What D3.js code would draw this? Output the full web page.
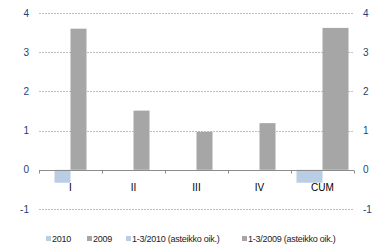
<!DOCTYPE html>
<html>
<head>
<meta charset="utf-8">
<script src="https://cdn.jsdelivr.net/npm/d3@7"></script>
<style>
  body { margin: 0; background: #fff; }
  text { font-family: "Liberation Sans", Arial, sans-serif; }
</style>
</head>
<body>
<script>
// data
const categories = ['I', 'II', 'III', 'IV', 'CUM'];
const s2010 = [-0.33, null, null, null, null];
const s2009 = [3.6, 1.51, 0.97, 1.19, null];
const q2010 = [null, null, null, null, -0.33];
const q2009 = [null, null, null, null, 3.62];
const yTicks = [-1, 0, 1, 2, 3, 4];
const legendLabels = ['2010', '2009', '1-3/2010 (asteikko oik.)', '1-3/2009 (asteikko oik.)'];

const blue = '#b9cde5', gray = '#a6a6a6';

const svg = d3.select('body').append('svg')
  .attr('width', 378)
  .attr('height', 246);

const x = d3.scaleBand().domain(categories).range([39, 354]);
const yL = d3.scaleLinear().domain([-1, 4]).range([209, 13]);
const yR = d3.scaleLinear().domain([-1, 4]).range([209, 13]);

// gridlines
svg.append('g').selectAll('line')
  .data(yTicks.filter(d => d !== 0))
  .enter().append('line')
  .attr('x1', 39).attr('x2', 354)
  .attr('y1', d => Math.round(yL(d)) + 0.5)
  .attr('y2', d => Math.round(yL(d)) + 0.5)
  .attr('stroke', '#bfbfbf')
  .attr('stroke-dasharray', '2,1');

// primary bars (2 series, narrow) and secondary (wide)
const bw1 = 16, bw2 = 26;
const primary = [{ vals: s2010, color: blue }, { vals: s2009, color: gray }];
const secondary = [{ vals: q2010, color: blue }, { vals: q2009, color: gray }];

function drawBars(series, bw, y) {
  series.forEach((s, si) => {
    svg.append('g').selectAll('rect')
      .data(categories.map((c, i) => ({ c, v: s.vals[i] })).filter(d => d.v != null))
      .enter().append('rect')
      .attr('x', d => x(d.c) + x.bandwidth() / 2 - bw + si * bw)
      .attr('width', bw)
      .attr('y', d => y(Math.max(0, d.v)))
      .attr('height', d => Math.abs(y(d.v) - y(0)))
      .attr('fill', s.color);
  });
}
drawBars(primary, bw1, yL);
drawBars(secondary, bw2, yR);

// zero axis
svg.append('line')
  .attr('x1', 39).attr('x2', 354)
  .attr('y1', Math.round(yL(0)) + 0.5).attr('y2', Math.round(yL(0)) + 0.5)
  .attr('stroke', '#8c8c8c');
svg.append('g').selectAll('line')
  .data(d3.range(categories.length + 1))
  .enter().append('line')
  .attr('x1', i => Math.round(39 + i * x.step()) + 0.5)
  .attr('x2', i => Math.round(39 + i * x.step()) + 0.5)
  .attr('y1', Math.round(yL(0)) + 0.5)
  .attr('y2', Math.round(yL(0)) + 3.5)
  .attr('stroke', '#8c8c8c');

// category labels
svg.append('g').selectAll('text')
  .data(categories)
  .enter().append('text')
  .attr('x', d => x(d) + x.bandwidth() / 2)
  .attr('y', 191)
  .attr('text-anchor', 'middle')
  .attr('font-size', 10)
  .attr('fill', '#000')
  .text(d => d);

// y labels left and right
svg.append('g').selectAll('text')
  .data(yTicks)
  .enter().append('text')
  .attr('x', 29)
  .attr('y', d => yL(d) + 3.5)
  .attr('text-anchor', 'end')
  .attr('font-size', 10)
  .attr('fill', '#1f3f73')
  .text(d => d);
svg.append('g').selectAll('text')
  .data(yTicks)
  .enter().append('text')
  .attr('x', 363)
  .attr('y', d => yR(d) + 3.5)
  .attr('text-anchor', 'start')
  .attr('font-size', 10)
  .attr('fill', '#1f3f73')
  .text(d => d);

// legend
const legX = [46, 87, 126, 242];
const legColors = [blue, gray, blue, gray];
const leg = svg.append('g').selectAll('g')
  .data(legendLabels)
  .enter().append('g')
  .attr('transform', (d, i) => `translate(${legX[i]}, 236)`);
leg.append('rect')
  .attr('width', 5).attr('height', 5)
  .attr('fill', (d, i) => legColors[i]);
leg.append('text')
  .attr('x', 6)
  .attr('y', 6)
  .attr('font-size', 9)
  .attr('letter-spacing', -0.25)
  .attr('fill', '#222')
  .text(d => d);
</script>
</body>
</html>
